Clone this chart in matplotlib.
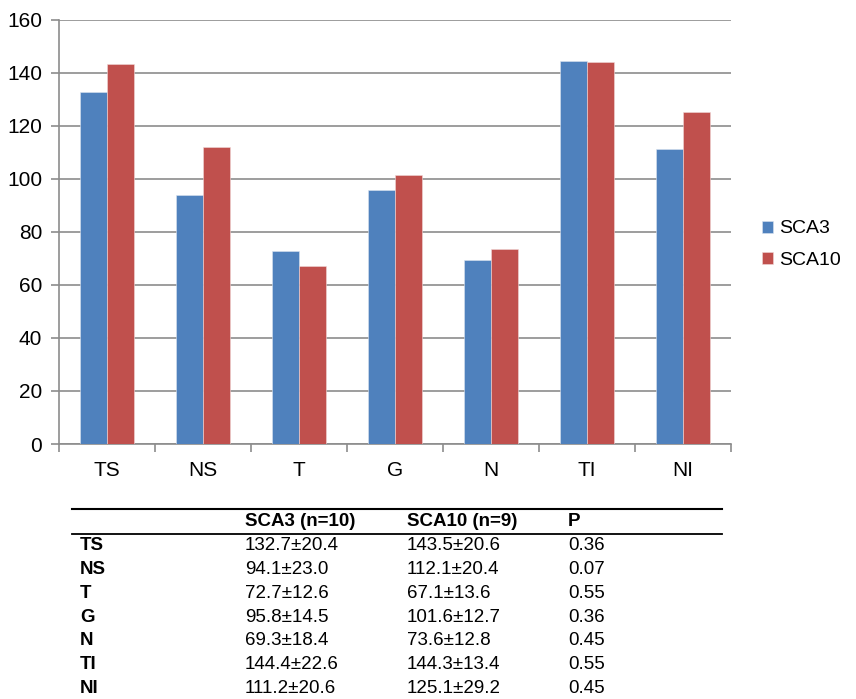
import matplotlib.pyplot as plt
import numpy as np
from matplotlib.lines import Line2D

plt.rcParams['font.family'] = ['Liberation Sans', 'DejaVu Sans']

# Chart data
categories = ["TS", "NS", "T", "G", "N", "TI", "NI"]
sca3_mean = [132.7, 94.1, 72.7, 95.8, 69.3, 144.4, 111.2]
sca3_sd = [20.4, 23.0, 12.6, 14.5, 18.4, 22.6, 20.6]
sca10_mean = [143.5, 112.1, 67.1, 101.6, 73.6, 144.3, 125.1]
sca10_sd = [20.6, 20.4, 13.6, 12.7, 12.8, 13.4, 29.2]
p_values = ["0.36", "0.07", "0.55", "0.36", "0.45", "0.55", "0.45"]
table_header = ["", "SCA3 (n=10)", "SCA10 (n=9)", "P"]

blue = "#4F81BD"
red = "#C0504D"
grid_gray = "#8c8c8c"

W, H = 856, 699
fig = plt.figure(figsize=(W / 100, H / 100), dpi=100)
ax = fig.add_axes([59 / W, 1 - 444 / H, (731 - 59) / W, (444 - 20) / H])

x = np.arange(len(categories))
bw = 0.28
ax.bar(x - bw / 2, sca3_mean, width=bw, color=blue, label="SCA3",
       edgecolor="#dbe4f0", linewidth=0.4, zorder=3)
ax.bar(x + bw / 2, sca10_mean, width=bw, color=red, label="SCA10",
       edgecolor="#f0d8d8", linewidth=0.4, zorder=3)

ax.set_xlim(-0.5, len(categories) - 0.5)
ax.set_ylim(0, 160)
ax.set_yticks(range(0, 161, 20))
ax.yaxis.grid(True, color=grid_gray, linewidth=1.2, zorder=0)
ax.set_axisbelow(True)

# category labels centred, tick marks at boundaries
ax.set_xticks(x)
ax.set_xticklabels(categories, fontsize=15)
ax.tick_params(axis='x', length=0, pad=12)
ax.set_xticks(np.arange(-0.5, len(categories), 1), minor=True)
ax.tick_params(axis='x', which='minor', length=6, width=1.2, color=grid_gray,
               direction='out')
ax.tick_params(axis='y', labelsize=15, length=6, width=1.2, color=grid_gray,
               pad=6)

for side in ["top", "right"]:
    ax.spines[side].set_visible(False)
ax.spines["left"].set_color(grid_gray)
ax.spines["bottom"].set_color(grid_gray)
ax.spines["left"].set_linewidth(1.2)
ax.spines["bottom"].set_linewidth(1.2)

ax.legend(loc="center left", bbox_to_anchor=(1.02, 0.47), frameon=False,
          fontsize=14, handlelength=0.57, handleheight=0.57, labelspacing=0.75,
          handletextpad=0.3)

# Table below the chart
def fy(py):
    return 1 - py / H

def fx(px):
    return px / W

fig.add_artist(Line2D([fx(72), fx(722)], [fy(509), fy(509)],
                      color="black", linewidth=1.5))
fig.add_artist(Line2D([fx(72), fx(722)], [fy(534), fy(534)],
                      color="black", linewidth=1.3))

fs = 13.5
col_x = [80, 245, 407, 568]
for cx, txt in zip(col_x, table_header):
    fig.text(fx(cx), fy(521), txt, fontsize=fs, fontweight="bold",
             va="center", ha="left")

row_y0 = 546
row_step = 23.7
for i, cat in enumerate(categories):
    yy = fy(row_y0 + i * row_step)
    fig.text(fx(col_x[0]), yy, cat, fontsize=fs, fontweight="bold",
             va="center", ha="left")
    fig.text(fx(col_x[1]), yy, f"{sca3_mean[i]:.1f}±{sca3_sd[i]:.1f}",
             fontsize=fs, va="center", ha="left")
    fig.text(fx(col_x[2]), yy, f"{sca10_mean[i]:.1f}±{sca10_sd[i]:.1f}",
             fontsize=fs, va="center", ha="left")
    fig.text(fx(col_x[3]), yy, p_values[i], fontsize=fs,
             va="center", ha="left")

fig.savefig("out.png", dpi=100)
